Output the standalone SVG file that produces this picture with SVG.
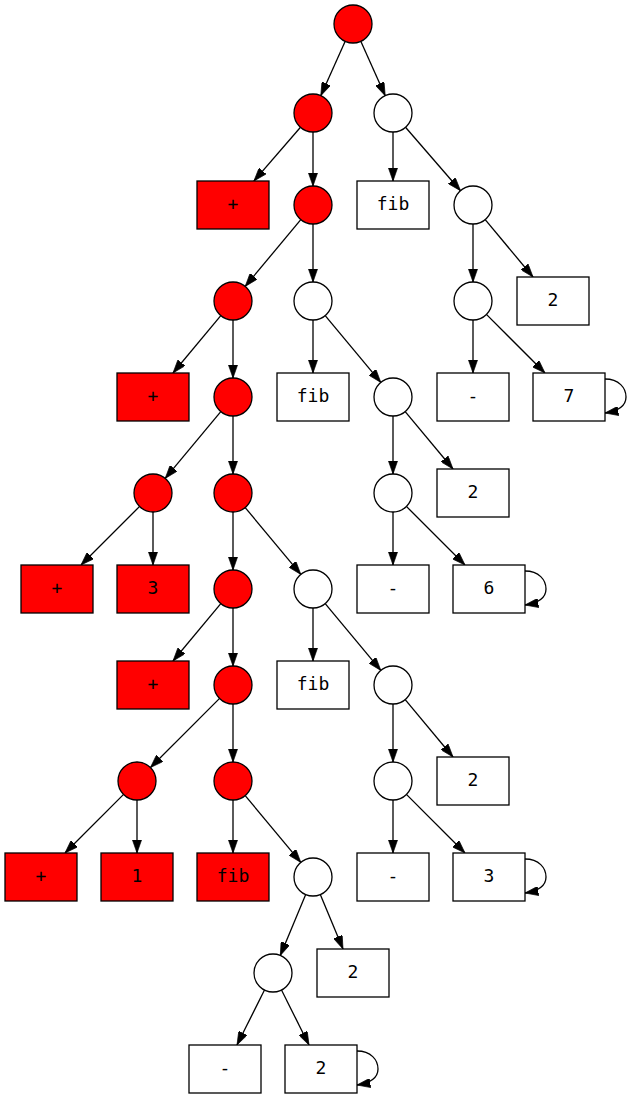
<svg xmlns="http://www.w3.org/2000/svg" width="635" height="1099" viewBox="0 0 635 1099">
<style>
.c{stroke:#000;stroke-width:1.3}
.r{fill:#ff0000}
.w{fill:#fff}
text{font-family:"DejaVu Sans Mono","Liberation Mono",monospace;font-size:18px;text-anchor:middle;fill:#000}
.e{stroke:#000;stroke-width:1.3;fill:none;marker-end:url(#ah)}
</style>
<defs>
<marker id="ah" viewBox="0 0 10 7" refX="10" refY="3.5" markerWidth="13.3" markerHeight="9.3" markerUnits="userSpaceOnUse" orient="auto">
<path d="M0,0 L10,3.5 L0,7 z" fill="#000" stroke="#000" stroke-width="0.5"/>
</marker>
</defs>
<rect width="635" height="1099" fill="#fff"/>
<g id="edges">
<line class="e" x1="345.2" y1="41.3" x2="320.8" y2="95.7"/>
<line class="e" x1="360.8" y1="41.3" x2="385.2" y2="95.7"/>
<line class="e" x1="300.5" y1="127.3" x2="253.9" y2="181"/>
<line class="e" x1="313" y1="132" x2="313" y2="186"/>
<line class="e" x1="393" y1="132" x2="393" y2="181"/>
<line class="e" x1="405.5" y1="127.3" x2="460.5" y2="190.7"/>
<line class="e" x1="300.8" y1="219.6" x2="245.2" y2="286.4"/>
<line class="e" x1="313" y1="224" x2="313" y2="282"/>
<line class="e" x1="473" y1="224" x2="473" y2="282"/>
<line class="e" x1="485.2" y1="219.6" x2="533" y2="277"/>
<line class="e" x1="473" y1="320" x2="473" y2="373"/>
<line class="e" x1="486.4" y1="314.4" x2="545" y2="373"/>
<path class="e" d="M605,379 C619,379 626,388 626,397 C626,406 618,411 605,413"/>
<line class="e" x1="220.8" y1="315.6" x2="173" y2="373"/>
<line class="e" x1="233" y1="320" x2="233" y2="378"/>
<line class="e" x1="313" y1="320" x2="313" y2="373"/>
<line class="e" x1="325.2" y1="315.6" x2="380.8" y2="382.4"/>
<line class="e" x1="220.8" y1="411.6" x2="165.2" y2="478.4"/>
<line class="e" x1="233" y1="416" x2="233" y2="474"/>
<line class="e" x1="393" y1="416" x2="393" y2="474"/>
<line class="e" x1="405.2" y1="411.6" x2="453" y2="469"/>
<line class="e" x1="139.6" y1="506.4" x2="81" y2="565"/>
<line class="e" x1="153" y1="512" x2="153" y2="565"/>
<line class="e" x1="233" y1="512" x2="233" y2="570"/>
<line class="e" x1="245.2" y1="507.6" x2="300.8" y2="574.4"/>
<line class="e" x1="393" y1="512" x2="393" y2="565"/>
<line class="e" x1="406.4" y1="506.4" x2="465" y2="565"/>
<path class="e" d="M525,571 C539,571 546,580 546,589 C546,598 538,603 525,605"/>
<line class="e" x1="220.8" y1="603.6" x2="173" y2="661"/>
<line class="e" x1="233" y1="608" x2="233" y2="666"/>
<line class="e" x1="313" y1="608" x2="313" y2="661"/>
<line class="e" x1="325.2" y1="603.6" x2="380.8" y2="670.4"/>
<line class="e" x1="219.6" y1="698.4" x2="150.4" y2="767.6"/>
<line class="e" x1="233" y1="704" x2="233" y2="762"/>
<line class="e" x1="393" y1="704" x2="393" y2="762"/>
<line class="e" x1="405.2" y1="699.6" x2="453" y2="757"/>
<line class="e" x1="123.6" y1="794.4" x2="65" y2="853"/>
<line class="e" x1="137" y1="800" x2="137" y2="853"/>
<line class="e" x1="233" y1="800" x2="233" y2="853"/>
<line class="e" x1="245.2" y1="795.6" x2="300.8" y2="862.4"/>
<line class="e" x1="393" y1="800" x2="393" y2="853"/>
<line class="e" x1="406.4" y1="794.4" x2="465" y2="853"/>
<path class="e" d="M525,859 C539,859 546,868 546,877 C546,886 538,891 525,893"/>
<line class="e" x1="305.7" y1="894.5" x2="280.3" y2="955.5"/>
<line class="e" x1="320.3" y1="894.5" x2="343" y2="949"/>
<line class="e" x1="264.5" y1="990" x2="237" y2="1045"/>
<line class="e" x1="281.5" y1="990" x2="309" y2="1045"/>
<path class="e" d="M357,1051 C371,1051 378,1060 378,1069 C378,1078 370,1083 357,1085"/>
</g>
<g id="n0"><circle class="c r" cx="353" cy="24" r="19"/></g>
<g id="nA"><circle class="c r" cx="313" cy="113" r="19"/></g>
<g id="nB"><circle class="c w" cx="393" cy="113" r="19"/></g>
<g id="b1"><rect class="c r" x="197" y="181" width="72" height="48"/><text x="233" y="210">+</text></g>
<g id="nC"><circle class="c r" cx="313" cy="205" r="19"/></g>
<g id="b2"><rect class="c w" x="357" y="181" width="72" height="48"/><text x="393" y="210">fib</text></g>
<g id="nD"><circle class="c w" cx="473" cy="205" r="19"/></g>
<g id="nE"><circle class="c r" cx="233" cy="301" r="19"/></g>
<g id="nF"><circle class="c w" cx="313" cy="301" r="19"/></g>
<g id="nG"><circle class="c w" cx="473" cy="301" r="19"/></g>
<g id="b3"><rect class="c w" x="517" y="277" width="72" height="48"/><text x="553" y="306">2</text></g>
<g id="b4"><rect class="c r" x="117" y="373" width="72" height="48"/><text x="153" y="402">+</text></g>
<g id="nH"><circle class="c r" cx="233" cy="397" r="19"/></g>
<g id="b5"><rect class="c w" x="277" y="373" width="72" height="48"/><text x="313" y="402">fib</text></g>
<g id="nI"><circle class="c w" cx="393" cy="397" r="19"/></g>
<g id="b6"><rect class="c w" x="437" y="373" width="72" height="48"/><text x="473" y="402">-</text></g>
<g id="b7"><rect class="c w" x="533" y="373" width="72" height="48"/><text x="569" y="402">7</text></g>
<g id="nJ"><circle class="c r" cx="153" cy="493" r="19"/></g>
<g id="nK"><circle class="c r" cx="233" cy="493" r="19"/></g>
<g id="nL"><circle class="c w" cx="393" cy="493" r="19"/></g>
<g id="b8"><rect class="c w" x="437" y="469" width="72" height="48"/><text x="473" y="498">2</text></g>
<g id="b9"><rect class="c r" x="21" y="565" width="72" height="48"/><text x="57" y="594">+</text></g>
<g id="b10"><rect class="c r" x="117" y="565" width="72" height="48"/><text x="153" y="594">3</text></g>
<g id="nM"><circle class="c r" cx="233" cy="589" r="19"/></g>
<g id="nN"><circle class="c w" cx="313" cy="589" r="19"/></g>
<g id="b11"><rect class="c w" x="357" y="565" width="72" height="48"/><text x="393" y="594">-</text></g>
<g id="b12"><rect class="c w" x="453" y="565" width="72" height="48"/><text x="489" y="594">6</text></g>
<g id="b13"><rect class="c r" x="117" y="661" width="72" height="48"/><text x="153" y="690">+</text></g>
<g id="nO"><circle class="c r" cx="233" cy="685" r="19"/></g>
<g id="b14"><rect class="c w" x="277" y="661" width="72" height="48"/><text x="313" y="690">fib</text></g>
<g id="nP"><circle class="c w" cx="393" cy="685" r="19"/></g>
<g id="nQ"><circle class="c r" cx="137" cy="781" r="19"/></g>
<g id="nR"><circle class="c r" cx="233" cy="781" r="19"/></g>
<g id="nS"><circle class="c w" cx="393" cy="781" r="19"/></g>
<g id="b15"><rect class="c w" x="437" y="757" width="72" height="48"/><text x="473" y="786">2</text></g>
<g id="b16"><rect class="c r" x="5" y="853" width="72" height="48"/><text x="41" y="882">+</text></g>
<g id="b17"><rect class="c r" x="101" y="853" width="72" height="48"/><text x="137" y="882">1</text></g>
<g id="b18"><rect class="c r" x="197" y="853" width="72" height="48"/><text x="233" y="882">fib</text></g>
<g id="nT"><circle class="c w" cx="313" cy="877" r="19"/></g>
<g id="b19"><rect class="c w" x="357" y="853" width="72" height="48"/><text x="393" y="882">-</text></g>
<g id="b20"><rect class="c w" x="453" y="853" width="72" height="48"/><text x="489" y="882">3</text></g>
<g id="nU"><circle class="c w" cx="273" cy="973" r="19"/></g>
<g id="b21"><rect class="c w" x="317" y="949" width="72" height="48"/><text x="353" y="978">2</text></g>
<g id="b22"><rect class="c w" x="189" y="1045" width="72" height="48"/><text x="225" y="1074">-</text></g>
<g id="b23"><rect class="c w" x="285" y="1045" width="72" height="48"/><text x="321" y="1074">2</text></g>
</svg>
